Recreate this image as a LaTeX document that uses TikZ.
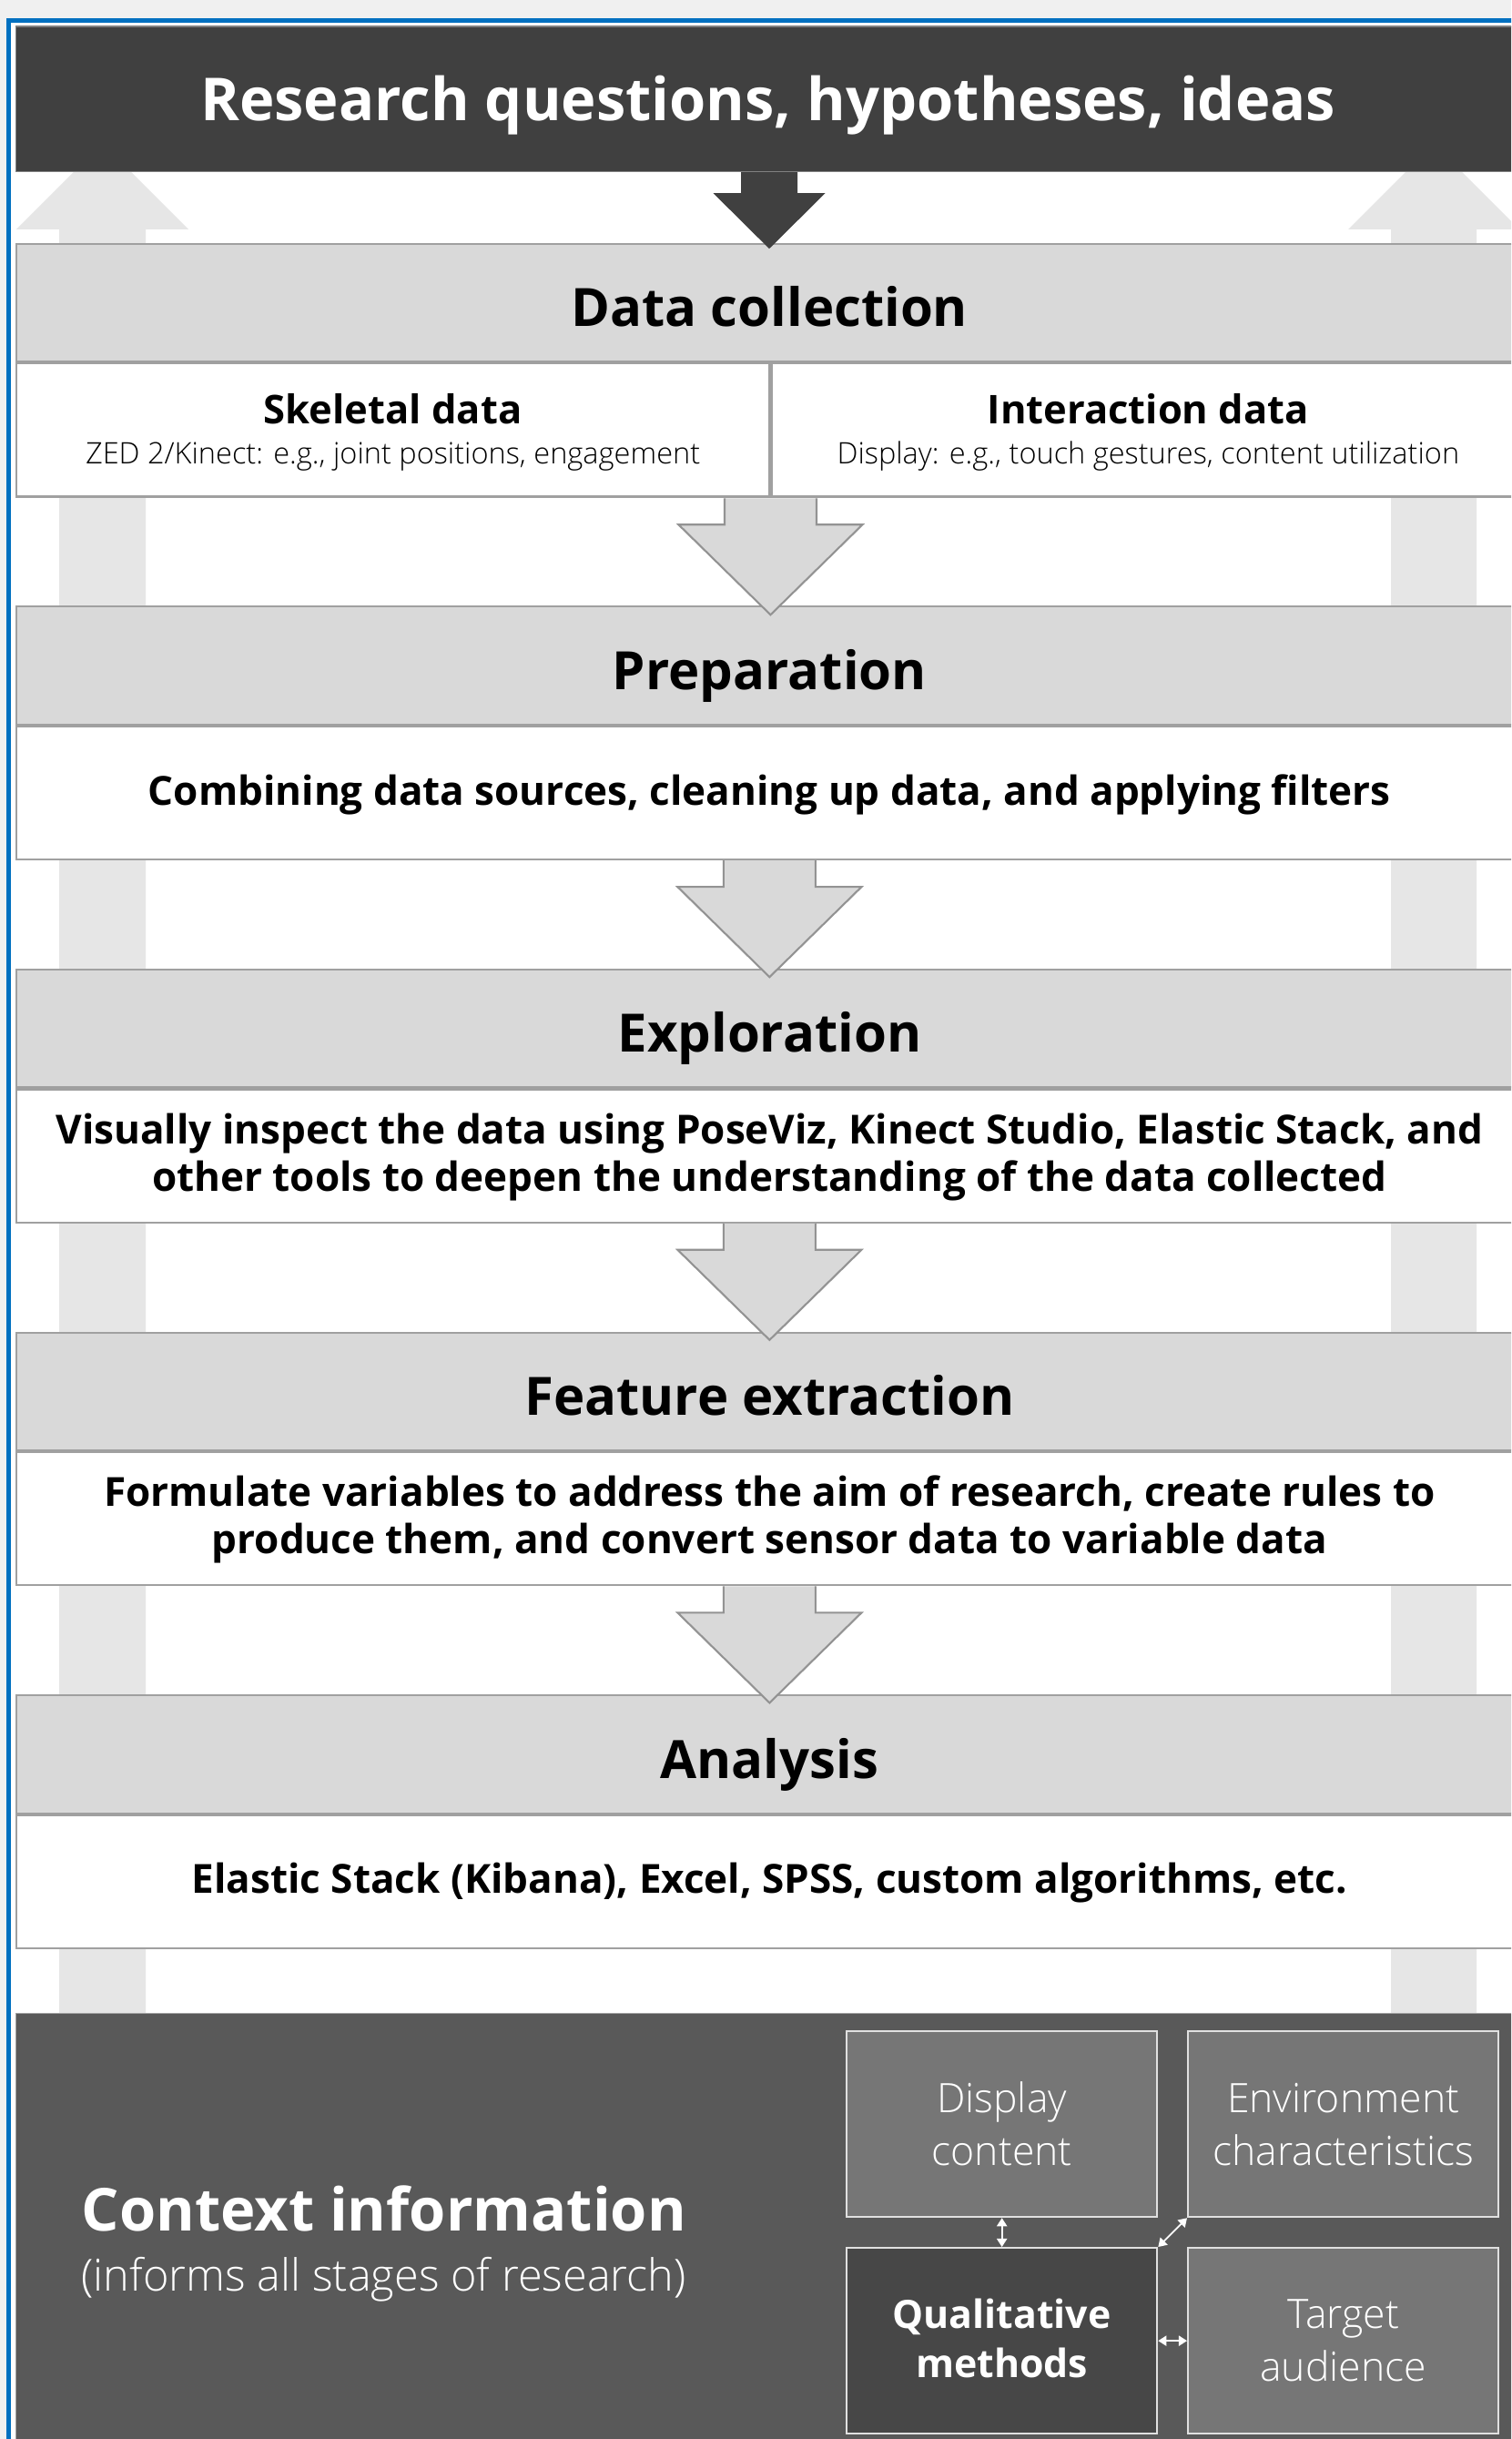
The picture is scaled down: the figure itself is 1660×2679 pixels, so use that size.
\documentclass[tikz,border=0pt]{standalone}
\usepackage{fontspec}
\setmainfont{Open Sans}
\IfFontExistsTF{Open Sans Light}
  {\newfontfamily\lightface{Open Sans Light}}
  {\newfontfamily\lightface{Open Sans}}
\IfFontExistsTF{Open Sans SemiBold}
  {\newfontfamily\semiface{Open Sans SemiBold}}
  {\newcommand\semiface{\bfseries}}
\usetikzlibrary{arrows.meta,calc}

% font size given in drawing units (1 unit = 0.01cm)
\newcommand\pxs[2]{\fontsize{\fpeval{#1*0.28453}pt}{\fpeval{#2*0.28453}pt}\selectfont}

\definecolor{framebl}{HTML}{0070C0}
\definecolor{pagebg}{HTML}{F0F0F0}
\definecolor{titlebg}{HTML}{404040}
\definecolor{hdrbg}{HTML}{D9D9D9}
\definecolor{rulegray}{HTML}{A0A0A0}
\definecolor{sidearr}{HTML}{E6E6E6}
\definecolor{ctxbg}{HTML}{595959}
\definecolor{boxbg}{HTML}{767676}
\definecolor{qualbg}{HTML}{474747}
\definecolor{boxrule}{HTML}{E0E0E0}

\tikzset{
  titlebox/.style={anchor=north west, rectangle, fill=titlebg, draw=gray, line width=0.4pt,
    minimum width=16.543cm, minimum height=1.594cm, inner sep=0pt},
  hdrbox/.style={anchor=north west, rectangle, fill=hdrbg, draw=rulegray, line width=0.6pt,
    minimum width=16.543cm, minimum height=1.295cm, inner sep=0pt},
  subbox/.style={anchor=north west, rectangle, fill=white, draw=rulegray, line width=0.6pt,
    minimum width=16.543cm, minimum height=1.46cm, inner sep=0pt},
  halfbox/.style={subbox, minimum width=8.2715cm},
  titletext/.style={anchor=base, inner sep=0pt, text=white, font={\semiface\pxs{65}{76}}},
  hdrtext/.style={anchor=base, inner sep=0pt, font={\semiface\pxs{58}{68}}},
  bodytext/.style={anchor=base, inner sep=0pt, font={\semiface\pxs{44}{52}}},
  colhead/.style={anchor=base, inner sep=0pt, font={\semiface\pxs{43.5}{50}}},
  coltext/.style={anchor=base, inner sep=0pt, font={\lightface\pxs{32.5}{38}}},
  flowarr/.style={fill=hdrbg, draw=gray!85, line width=0.6pt, line join=miter},
  startarr/.style={fill=titlebg, draw=none},
  ctxbox/.style={anchor=north west, rectangle, fill=ctxbg, draw=rulegray, line width=0.4pt,
    minimum width=16.543cm, minimum height=5cm, inner sep=0pt},
  factor/.style={anchor=north west, rectangle, fill=boxbg, draw=boxrule, line width=0.6pt,
    minimum width=3.41cm, minimum height=2.04cm, inner sep=0pt, align=center,
    text=white, font={\lightface\pxs{44.5}{58}}},
  qualbox/.style={factor, fill=qualbg, font={\semiface\pxs{42.8}{54}}},
  qualtext/.style={anchor=center, inner sep=0pt, align=center, text=white,
    font={\semiface\pxs{42.8}{54}}},
  link/.style={white, line width=0.5pt, {Triangle[length=2.6pt,width=3.2pt]}-{Triangle[length=2.6pt,width=3.2pt]}},
}

% block arrow hanging below a box: shaft half width, shaft length, head half width, head length
\newcommand\blockarrow[6]{%
  \draw[#1] ($(#2.south)+(-#3,0)$) -- ++(0,#4) -- ++(-#5+#3,0)
    -- ++(#5,#6) -- ++(#5,-#6) -- ++(-#5+#3,0) -- ++(0,-#4);}

\begin{document}
\begin{tikzpicture}[x=0.01cm, y=-0.01cm]
\useasboundingbox (0,0) rectangle (1660,2679);
\clip (0,0) rectangle (1660,2679);

% page and frame
\fill[pagebg] (0,0) rectangle (1660,2679);
\fill[white] (9.8,22.2) rectangle (1700,2700);
\draw[framebl, line width=1.5pt] (9.8,2700) -- (9.8,22.2) -- (1700,22.2);

% feedback arrows running up both sides
\fill[sidearr] (65,2215) -- (65,252) -- (18,252) -- (112.5,157.5) -- (207,252)
  -- (160,252) -- (160,2215) -- cycle;
\fill[sidearr] (1528,2215) -- (1528,252) -- (1481,252) -- (1575,158) -- (1669,252)
  -- (1622,252) -- (1622,2215) -- cycle;

% starting point
\node[titlebox] (rq) at (16.7,28.3) {};
\node[titletext] (rqT) at (843.7,133) {Research questions, hypotheses, ideas};

% stage 1: data collection
\node[hdrbox] (h1) at (16.7,266.7) {};
\node[hdrtext] (h1T) at ($(h1.north)+(0,92)$) {Data collection};
\node[halfbox] (sk) at (h1.south west) {};
\node[halfbox] (ia) at (sk.north east) {};
\node[colhead] (skT) at ($(sk.north)+(0,67.3)$) {Skeletal data};
\node[coltext] (skS) at ($(sk.north)+(0,110.7)$) {ZED 2/Kinect: e.g., joint positions, engagement};
\node[colhead] (iaT) at ($(ia.north)+(0,67.3)$) {Interaction data};
\node[coltext] (iaS) at ($(ia.north)+(0,110.7)$) {Display: e.g., touch gestures, content utilization};

% stage 2: preparation
\node[hdrbox] (h2) at (16.7,665.3) {};
\node[hdrtext] (h2T) at ($(h2.north)+(0,92)$) {Preparation};
\node[subbox] (s2) at (h2.south west) {};
\node[bodytext] (s2T) at ($(s2.north)+(0,88)$) {Combining data sources, cleaning up data, and applying filters};

% stage 3: exploration
\node[hdrbox] (h3) at (16.7,1063.9) {};
\node[hdrtext] (h3T) at ($(h3.north)+(0,92)$) {Exploration};
\node[subbox] (s3) at (h3.south west) {};
\node[bodytext] (s3a) at ($(s3.north)+(0,60.5)$) {Visually inspect the data using PoseViz, Kinect Studio, Elastic Stack, and};
\node[bodytext] (s3b) at ($(s3.north)+(0,112.5)$) {other tools to deepen the understanding of the data collected};

% stage 4: feature extraction
\node[hdrbox] (h4) at (16.7,1462.5) {};
\node[hdrtext] (h4T) at ($(h4.north)+(0,92)$) {Feature extraction};
\node[subbox] (s4) at (h4.south west) {};
\node[bodytext] (s4a) at ($(s4.north)+(0,60.5)$) {Formulate variables to address the aim of research, create rules to};
\node[bodytext] (s4b) at ($(s4.north)+(0,112.5)$) {produce them, and convert sensor data to variable data};

% stage 5: analysis
\node[hdrbox] (h5) at (16.7,1861.1) {};
\node[hdrtext] (h5T) at ($(h5.north)+(0,92)$) {Analysis};
\node[subbox] (s5) at (h5.south west) {};
\node[bodytext] (s5T) at ($(s5.north)+(0,87)$) {Elastic Stack (Kibana), Excel, SPSS, custom algorithms, etc.};

% arrows between stages
\node[inner sep=0pt, minimum size=0pt] (d1) at (sk.south east) {};
\blockarrow{startarr}{rq}{31}{23}{61.5}{61}
\blockarrow{flowarr}{d1}{50.5}{29}{101}{99}
\blockarrow{flowarr}{s2}{50.5}{29}{101}{99}
\blockarrow{flowarr}{s3}{50.5}{29}{101}{99}
\blockarrow{flowarr}{s4}{50.5}{29}{101}{99}

% context information
\node[ctxbox] (ctx) at (16.7,2211) {};
\node[anchor=base west, inner sep=0pt, text=white, font={\semiface\pxs{65}{76}}] (ctxT) at (89,2450) {Context information};
\node[anchor=base west, inner sep=0pt, text=white, font={\lightface\pxs{48.6}{56}}] (ctxS) at (89,2516) {(informs all stages of research)};

\node[factor] (disp) at (929,2230) {Display\\content};
\node[factor] (env) at (1304,2230) {Environment\\characteristics};
\node[qualbox] (qual) at (929,2468) {};
\node[qualtext] (qualT) at ($(qual.center)+(0,-3)$) {Qualitative\\methods};
\node[factor] (targ) at (1304,2468) {Target\\audience};

\draw[link] (disp.south) -- (qual.north);
\draw[link] (qual.north east) -- (env.south west);
\draw[link] (qual.east) -- (targ.west);
\end{tikzpicture}
\end{document}
